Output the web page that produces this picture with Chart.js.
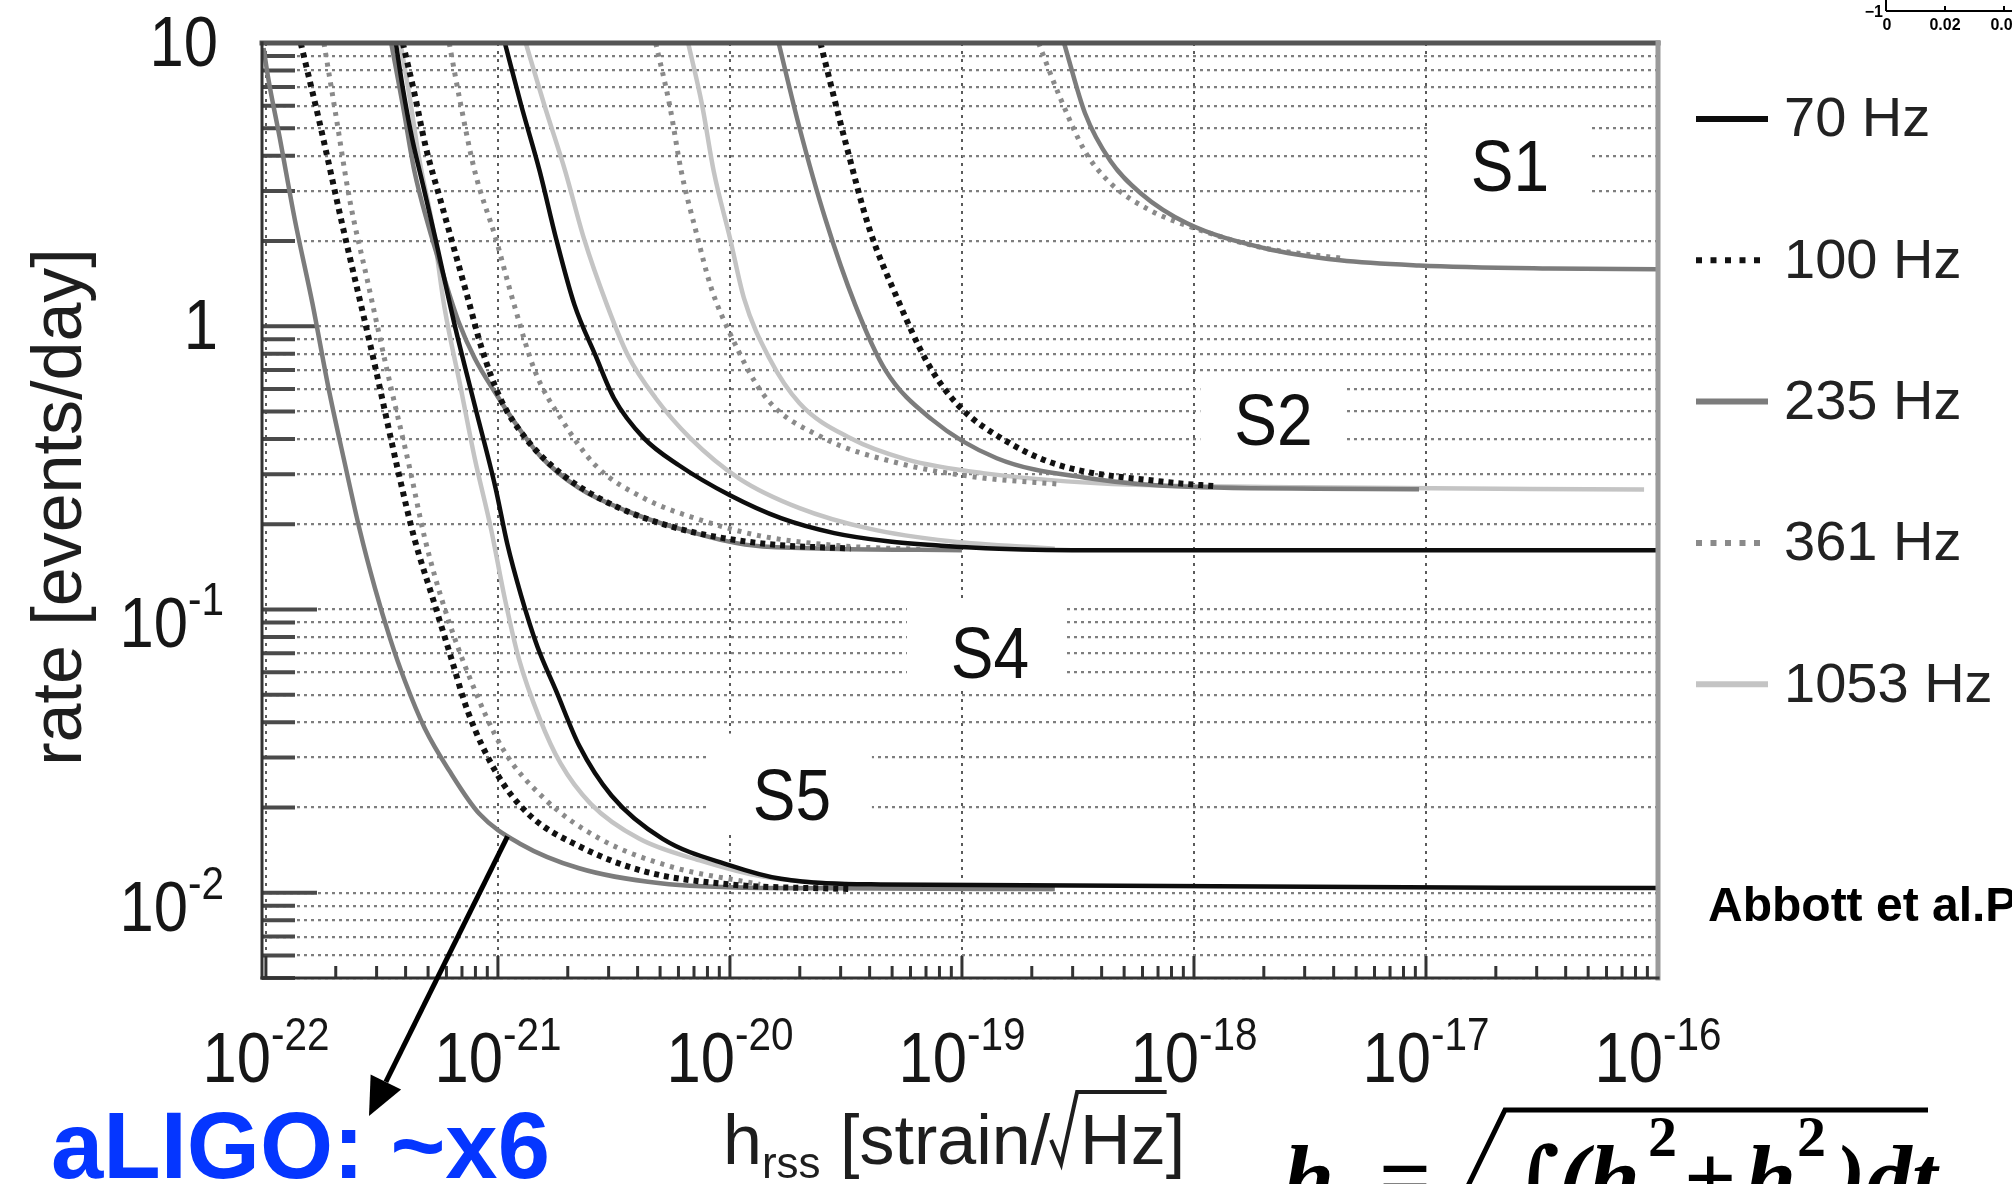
<!DOCTYPE html>
<html>
<head>
<meta charset="utf-8">
<title>Burst rate limits S1-S5</title>
<script src="https://cdn.jsdelivr.net/npm/chart.js@4.4.1/dist/chart.umd.min.js"></script>
<style>
    html, body { margin: 0; padding: 0; background: #fff; }
    #wrap { width: 2012px; height: 1184px; position: relative; overflow: hidden; }
</style>
</head>
<body>
<div id="wrap"><canvas id="rateChart" width="2012" height="1184"></canvas></div>
<script>
// --- Axes ---
const xMin = 9.62e-23;          // frame starts a hair left of 1e-22
const xMax = 1e-16;
const yMin = 0.005;
const yMax = 10;
const xTickExp = ['-22', '-21', '-20', '-19', '-18', '-17', '-16'];
const yTickBase = ['10', '1', '10', '10'];
const yTickExp = ['', '', '-1', '-2'];
const yTickVals = [10, 1, 0.1, 0.01];

// --- Legend / frequencies ---
const freqLabels = ['70 Hz', '100 Hz', '235 Hz', '361 Hz', '1053 Hz'];
const freqColors = ['#0d0d0d', '#111111', '#7c7c7c', '#8a8a8a', '#c4c4c4'];
const freqDash = [[], [5, 5], [], [4, 6], []];
const freqWidth = [4.5, 6, 4.5, 5, 4.5];

// --- Run labels (placed in data coords) ---
const runNames = ['S1', 'S2', 'S4', 'S5'];
const runLabelH = [2.3e-17, 2.2e-18, 1.32e-19, 1.85e-20];
const runLabelRate = [3.7, 0.47, 0.071, 0.0224];

// --- Curves: log10(h_rss) and rate [events/day] ---
// S1
const s1_235_logh = [-18.56, -18.47, -18.36, -18.23, -18.03, -17.70, -17.37, -17.03, -16.47, -16.00];
const s1_235_rate = [10, 5.66, 3.83, 2.95, 2.31, 1.89, 1.71, 1.64, 1.60, 1.59];
const s1_361_logh = [-18.67, -18.58, -18.47, -18.36, -18.19, -17.97, -17.70, -17.37];
const s1_361_rate = [10, 6.50, 4.15, 3.20, 2.57, 2.18, 1.89, 1.74];
// S2
const s2_100_logh = [-19.61, -19.50, -19.40, -19.28, -19.15, -19.02, -18.80, -18.58, -18.14, -17.90];
const s2_100_rate = [10, 4.40, 2.22, 1.26, 0.746, 0.530, 0.389, 0.323, 0.283, 0.272];
const s2_235_logh = [-19.79, -19.70, -19.59, -19.46, -19.33, -19.13, -18.85, -18.47, -17.97, -17.03];
const s2_235_rate = [10, 5.01, 2.41, 1.19, 0.700, 0.469, 0.342, 0.292, 0.270, 0.266];
const s2_361_logh = [-20.32, -20.26, -20.21, -20.15, -20.08, -20.00, -19.85, -19.61, -19.27, -18.92, -18.58];
const s2_361_rate = [10, 6.04, 3.53, 2.22, 1.36, 0.944, 0.566, 0.408, 0.328, 0.292, 0.277];
const s2_1053_logh = [-20.18, -20.12, -20.07, -20.00, -19.94, -19.83, -19.70, -19.48, -19.24, -18.91, -18.41, -17.54, -16.06];
const s2_1053_rate = [10, 6.04, 3.53, 2.05, 1.26, 0.771, 0.535, 0.402, 0.339, 0.303, 0.279, 0.270, 0.265];
// S4
const s4_70_logh = [-20.97, -20.90, -20.82, -20.75, -20.67, -20.58, -20.50, -20.37, -20.22, -20.00, -19.78, -19.55, -19.32, -19.09, -18.84, -18.41, -16.00];
const s4_70_rate = [10, 6.04, 3.53, 2.05, 1.19, 0.79, 0.557, 0.402, 0.323, 0.253, 0.210, 0.186, 0.174, 0.168, 0.164, 0.162, 0.162];
const s4_100_logh = [-21.41, -21.36, -21.31, -21.25, -21.19, -21.13, -21.07, -20.99, -20.88, -20.73, -20.52, -20.22, -19.86, -19.48];
const s4_100_rate = [10, 6.65, 4.26, 2.83, 1.89, 1.26, 0.836, 0.557, 0.402, 0.303, 0.237, 0.193, 0.171, 0.164];
const s4_235_logh = [-21.46, -21.41, -21.36, -21.30, -21.24, -21.17, -21.10, -21.01, -20.93, -20.82, -20.65, -20.44, -20.22, -19.86, -19.00];
const s4_235_rate = [10, 6.04, 3.53, 2.27, 1.56, 1.04, 0.771, 0.580, 0.461, 0.350, 0.268, 0.222, 0.193, 0.167, 0.162];
const s4_361_logh = [-21.21, -21.16, -21.10, -21.01, -20.93, -20.84, -20.72, -20.58, -20.37, -20.15, -19.87, -19.53, -19.18];
const s4_361_rate = [10, 6.04, 3.53, 2.05, 1.19, 0.693, 0.461, 0.323, 0.247, 0.210, 0.182, 0.168, 0.163];
const s4_1053_logh = [-20.88, -20.80, -20.71, -20.63, -20.53, -20.44, -20.32, -20.17, -19.96, -19.70, -19.40, -19.05, -18.60];
const s4_1053_rate = [10, 6.04, 3.53, 2.05, 1.19, 0.79, 0.557, 0.402, 0.290, 0.228, 0.193, 0.174, 0.164];
// S5
const s5_70_logh = [-21.44, -21.41, -21.37, -21.32, -21.27, -21.19, -21.10, -21.01, -20.96, -20.90, -20.83, -20.75, -20.65, -20.51, -20.29, -20.00, -19.78, -19.35, -16.00];
const s5_70_rate = [10, 6.93, 4.61, 3.08, 2.05, 1.04, 0.526, 0.268, 0.171, 0.112, 0.0740, 0.0518, 0.0331, 0.0220, 0.0155, 0.0125, 0.0112, 0.0107, 0.0104];
const s5_100_logh = [-21.85, -21.77, -21.67, -21.54, -21.43, -21.36, -21.28, -21.21, -21.13, -21.01, -20.87, -20.65, -20.37, -20.00, -19.48];
const s5_100_rate = [10, 5.30, 2.27, 0.79, 0.308, 0.178, 0.109, 0.0711, 0.0437, 0.0268, 0.0190, 0.0146, 0.0119, 0.0107, 0.0103];
const s5_235_logh = [-22.01, -21.99, -21.94, -21.875, -21.80, -21.73, -21.66, -21.595, -21.53, -21.465, -21.40, -21.315, -21.21, -21.08, -20.905, -20.65, -20.30, -19.86, -18.60];
const s5_235_rate = [9.6, 7.52, 4.61, 2.37, 1.21, 0.604, 0.328, 0.190, 0.119, 0.0791, 0.0557, 0.0380, 0.0270, 0.0190, 0.0149, 0.0122, 0.0108, 0.0104, 0.0103];
const s5_361_logh = [-21.75, -21.70, -21.64, -21.56, -21.47, -21.38, -21.315, -21.23, -21.12, -20.98, -20.80, -20.56, -20.26, -19.87];
const s5_361_rate = [10, 5.66, 2.83, 1.42, 0.655, 0.315, 0.178, 0.101, 0.0570, 0.0323, 0.0215, 0.0155, 0.0124, 0.0107];
const s5_1053_logh = [-21.42, -21.38, -21.34, -21.28, -21.23, -21.16, -21.10, -21.03, -20.97, -20.91, -20.82, -20.73, -20.60, -20.39, -20.13, -19.86, -19.48, -18.60];
const s5_1053_rate = [10, 6.40, 3.93, 2.22, 1.16, 0.604, 0.342, 0.193, 0.109, 0.0671, 0.0412, 0.0286, 0.0206, 0.0155, 0.0130, 0.0114, 0.0107, 0.0103];

// first entry is drawn on top
const curves = [
    { f: 0, h: s4_70_logh, r: s4_70_rate },
    { f: 0, h: s5_70_logh, r: s5_70_rate },
    { f: 1, h: s2_100_logh, r: s2_100_rate },
    { f: 1, h: s4_100_logh, r: s4_100_rate },
    { f: 1, h: s5_100_logh, r: s5_100_rate },
    { f: 2, h: s1_235_logh, r: s1_235_rate },
    { f: 2, h: s2_235_logh, r: s2_235_rate },
    { f: 2, h: s4_235_logh, r: s4_235_rate },
    { f: 2, h: s5_235_logh, r: s5_235_rate },
    { f: 3, h: s1_361_logh, r: s1_361_rate },
    { f: 3, h: s2_361_logh, r: s2_361_rate },
    { f: 3, h: s4_361_logh, r: s4_361_rate },
    { f: 3, h: s5_361_logh, r: s5_361_rate },
    { f: 4, h: s2_1053_logh, r: s2_1053_rate },
    { f: 4, h: s4_1053_logh, r: s4_1053_rate },
    { f: 4, h: s5_1053_logh, r: s5_1053_rate }
];

const SANS = '"Liberation Sans", Arial, Helvetica, sans-serif';
const SERIF = '"Liberation Serif", "Times New Roman", serif';
const SQUEEZE = 0.88;

// --- Helpers ---
const isDecade = v => Math.abs(Math.log10(v) - Math.round(Math.log10(v))) < 1e-6;

function logTicks(lo, hi) {
    const out = [];
    for (let e = Math.floor(Math.log10(lo)); e <= Math.ceil(Math.log10(hi)); e++) {
        for (let m = 1; m <= 9; m++) {
            const v = Number((m * Math.pow(10, e)).toPrecision(3));
            if (v >= lo * 0.999 && v <= hi * 1.001) out.push({ value: v });
        }
    }
    return out;
}

function line(ctx, x1, y1, x2, y2) {
    ctx.beginPath();
    ctx.moveTo(x1, y1);
    ctx.lineTo(x2, y2);
    ctx.stroke();
}

function squeezedText(ctx, str, x, y, font, sx, align, color) {
    ctx.save();
    ctx.font = font;
    ctx.fillStyle = color;
    ctx.textAlign = align;
    ctx.textBaseline = 'alphabetic';
    ctx.translate(x, y);
    ctx.scale(sx, 1);
    ctx.fillText(str, 0, 0);
    ctx.restore();
}

// "10" with a raised exponent, y is the baseline of the big digits
function powerLabel(ctx, base, exp, x, y, align) {
    const big = '70px ' + SANS;
    const small = '46px ' + SANS;
    ctx.save();
    ctx.fillStyle = '#161616';
    ctx.textAlign = 'left';
    ctx.textBaseline = 'alphabetic';
    ctx.font = big;
    const bw = ctx.measureText(base).width;
    ctx.font = small;
    const ew = exp ? ctx.measureText(exp).width : 0;
    const total = (bw + ew) * SQUEEZE;
    const left = align === 'center' ? x - total / 2 : align === 'right' ? x - total : x;
    ctx.translate(left, y);
    ctx.scale(SQUEEZE, 1);
    ctx.font = big;
    ctx.fillText(base, 0, 0);
    if (exp) {
        ctx.font = small;
        ctx.fillText(exp, bw, -32);
    }
    ctx.restore();
}

function arrow(ctx, x1, y1, x2, y2, head, half) {
    const ang = Math.atan2(y2 - y1, x2 - x1);
    const bx = x2 - head * Math.cos(ang);
    const by = y2 - head * Math.sin(ang);
    line(ctx, x1, y1, bx, by);
    ctx.beginPath();
    ctx.moveTo(x2, y2);
    ctx.lineTo(bx + half * Math.sin(ang), by - half * Math.cos(ang));
    ctx.lineTo(bx - half * Math.sin(ang), by + half * Math.cos(ang));
    ctx.closePath();
    ctx.fill();
}

// --- Plugin: everything around the curves ---
const runBoxes = [[-79, -55, 79, 58], [-73, -43, 70, 39], [-83, -53, 77, 35], [-83, -60, 80, 37]];

const figureDecor = {
    id: 'figureDecor',
    beforeDatasetsDraw(chart) {
        const { ctx, chartArea: a, scales: { x, y } } = chart;
        ctx.save();

        // run labels sit on white panels that cut the grid
        runNames.forEach((name, i) => {
            const cx = x.getPixelForValue(runLabelH[i]);
            const cy = y.getPixelForValue(runLabelRate[i]);
            const b = runBoxes[i];
            ctx.fillStyle = '#fff';
            ctx.fillRect(cx + b[0], cy + b[1], b[2] - b[0], b[3] - b[1]);
            squeezedText(ctx, name, cx, cy + 26, '72px ' + SANS, 0.89, 'center', '#111');
        });

        // tick marks point inward
        ctx.strokeStyle = '#4a4a4a';
        ctx.lineWidth = 4;
        y.ticks.forEach(t => {
            const py = y.getPixelForValue(t.value);
            line(ctx, a.left, py, a.left + (isDecade(t.value) ? 55 : 33), py);
        });
        ctx.strokeStyle = '#333';
        ctx.lineWidth = 3;
        x.ticks.forEach(t => {
            const px = x.getPixelForValue(t.value);
            line(ctx, px, a.bottom, px, a.bottom - (isDecade(t.value) ? 22 : 12));
        });
        ctx.restore();
    },
    afterDraw(chart) {
        const { ctx, chartArea: a, scales: { x, y } } = chart;
        ctx.save();

        // frame
        ctx.lineCap = 'square';
        ctx.strokeStyle = '#555';
        ctx.lineWidth = 5;
        line(ctx, a.left, a.top, a.right, a.top);
        ctx.strokeStyle = '#9a9a9a';
        line(ctx, a.right, a.top, a.right, a.bottom);
        ctx.strokeStyle = '#333';
        ctx.lineWidth = 3;
        line(ctx, a.left, a.top, a.left, a.bottom);
        line(ctx, a.left, a.bottom, a.right, a.bottom);
        ctx.lineCap = 'butt';

        // tick labels
        xTickExp.forEach(e => {
            powerLabel(ctx, '10', e, x.getPixelForValue(Math.pow(10, Number(e))), a.bottom + 104, 'center');
        });
        yTickVals.forEach((v, i) => {
            const py = y.getPixelForValue(v);
            if (yTickExp[i]) {
                powerLabel(ctx, yTickBase[i], yTickExp[i], a.left - 38, py + 38, 'right');
            } else {
                powerLabel(ctx, yTickBase[i], '', a.left - 44, py + 23, 'right');
            }
        });

        // y title
        ctx.save();
        ctx.translate(62, 507);
        ctx.rotate(-Math.PI / 2);
        ctx.font = '70px ' + SANS;
        ctx.fillStyle = '#1e1e1e';
        ctx.textAlign = 'center';
        ctx.textBaseline = 'middle';
        ctx.fillText('rate [events/day]', 0, 0);
        ctx.restore();

        // x title: h_rss [strain/sqrt(Hz)]
        ctx.fillStyle = '#1e1e1e';
        ctx.textAlign = 'left';
        ctx.textBaseline = 'alphabetic';
        let tx = 723;
        const tb = 1164;
        ctx.font = '70px ' + SANS;
        ctx.fillText('h', tx, tb);
        tx += ctx.measureText('h').width;
        ctx.font = '44px ' + SANS;
        ctx.fillText('rss', tx, tb + 14);
        tx += ctx.measureText('rss').width;
        ctx.font = '70px ' + SANS;
        ctx.fillText(' [strain/', tx, tb);
        tx += ctx.measureText(' [strain/').width;
        const hzW = ctx.measureText('Hz').width;
        ctx.strokeStyle = '#1e1e1e';
        ctx.lineWidth = 4;
        ctx.beginPath();
        ctx.moveTo(tx + 1, tb - 24);
        ctx.lineTo(tx + 11, tb);
        ctx.lineTo(tx + 27, tb - 72);
        ctx.lineTo(tx + 31 + hzW, tb - 72);
        ctx.stroke();
        ctx.fillText('Hz]', tx + 30, tb);

        // legend to the right of the frame
        freqLabels.forEach((lab, i) => {
            const ly = a.top + 76 + i * 141.3;
            ctx.strokeStyle = freqColors[i];
            ctx.lineWidth = 6;
            ctx.setLineDash(freqDash[i].length ? [6, 8.5] : []);
            line(ctx, a.right + 38, ly, a.right + 110, ly);
            ctx.setLineDash([]);
            ctx.font = '56px ' + SANS;
            ctx.fillStyle = '#222';
            ctx.textBaseline = 'middle';
            ctx.fillText(lab, a.right + 126, ly + 2);
        });
        ctx.textBaseline = 'alphabetic';

        // citation
        ctx.font = 'bold 48px ' + SANS;
        ctx.fillStyle = '#000';
        ctx.fillText('Abbott et al.PRD 80 102001', 1708, 921);

        // aLIGO note and its arrow onto the S5 curve
        ctx.font = 'bold 94px ' + SANS;
        ctx.fillStyle = '#0536ff';
        ctx.fillText('aLIGO: ~x6', 51, 1178);
        ctx.strokeStyle = '#000';
        ctx.fillStyle = '#000';
        ctx.lineWidth = 5;
        arrow(ctx, x.getPixelForValue(1.1e-21), y.getPixelForValue(0.0158), 369, 1116, 38, 17);

        // definition of h_rss (cut by the bottom edge)
        ctx.fillStyle = '#000';
        ctx.font = 'bold italic 92px ' + SERIF;
        ctx.fillText('h', 1283, 1208);
        ctx.font = 'bold 92px ' + SERIF;
        ctx.fillText('=', 1379, 1208);
        ctx.lineWidth = 5;
        ctx.beginPath();
        ctx.moveTo(1466, 1190);
        ctx.lineTo(1505, 1110);
        ctx.lineTo(1928, 1110);
        ctx.stroke();
        ctx.font = '104px "DejaVu Serif", serif';
        ctx.fillText('\u222B', 1506, 1222);
        ctx.font = 'bold italic 92px ' + SERIF;
        ctx.fillText('(h', 1558, 1208);
        ctx.fillText('h', 1745, 1208);
        ctx.fillText(')dt', 1835, 1208);
        ctx.font = 'bold 92px ' + SERIF;
        ctx.fillText('+', 1684, 1208);
        ctx.font = 'bold 58px ' + SERIF;
        ctx.fillText('2', 1648, 1156);
        ctx.fillText('2', 1797, 1156);

        // corner of a neighbouring plot, top right
        ctx.strokeStyle = '#000';
        ctx.lineWidth = 2;
        line(ctx, 1886, 0, 1886, 11);
        line(ctx, 1886, 11, 2012, 11);
        line(ctx, 1945, 11, 1945, 6);
        line(ctx, 2004, 11, 2004, 6);
        ctx.font = 'bold 16px ' + SANS;
        ctx.textAlign = 'center';
        ctx.fillText('0', 1887, 30);
        ctx.fillText('0.02', 1945, 30);
        ctx.fillText('0.04', 2006, 30);
        ctx.textAlign = 'right';
        ctx.fillText('\u22121', 1883, 17);
        ctx.restore();
    }
};

// --- Chart ---
const datasets = curves.map(c => ({
    label: freqLabels[c.f],
    data: c.h.map((e, i) => ({ x: Math.pow(10, e), y: c.r[i] })),
    borderColor: freqColors[c.f],
    borderWidth: freqWidth[c.f],
    borderDash: freqDash[c.f],
    borderCapStyle: 'butt',
    borderJoinStyle: 'round',
    fill: false,
    pointRadius: 0,
    cubicInterpolationMode: 'monotone'
}));

const ctx = document.getElementById('rateChart').getContext('2d');
const rateChart = new Chart(ctx, {
    type: 'line',
    data: { datasets },
    options: {
        responsive: false,
        animation: false,
        devicePixelRatio: 1,
        layout: { padding: { left: 262, right: 354, top: 43, bottom: 206 } },
        plugins: { legend: { display: false }, tooltip: { enabled: false } },
        scales: {
            x: {
                type: 'logarithmic',
                min: xMin,
                max: xMax,
                afterBuildTicks: axis => { axis.ticks = logTicks(1e-22, xMax); },
                ticks: { display: false },
                grid: {
                    drawTicks: false,
                    lineWidth: 2,
                    color: c => (c.tick && isDecade(c.tick.value)) ? '#5a5a5a' : 'rgba(0,0,0,0)'
                },
                border: { display: false, dash: [3, 5] }
            },
            y: {
                type: 'logarithmic',
                min: yMin,
                max: yMax,
                afterBuildTicks: axis => { axis.ticks = logTicks(yMin, yMax); },
                ticks: { display: false },
                grid: { drawTicks: false, lineWidth: 2.2, color: '#7e7e7e' },
                border: { display: false, dash: [3, 4] }
            }
        }
    },
    plugins: [figureDecor]
});
</script>
</body>
</html>
